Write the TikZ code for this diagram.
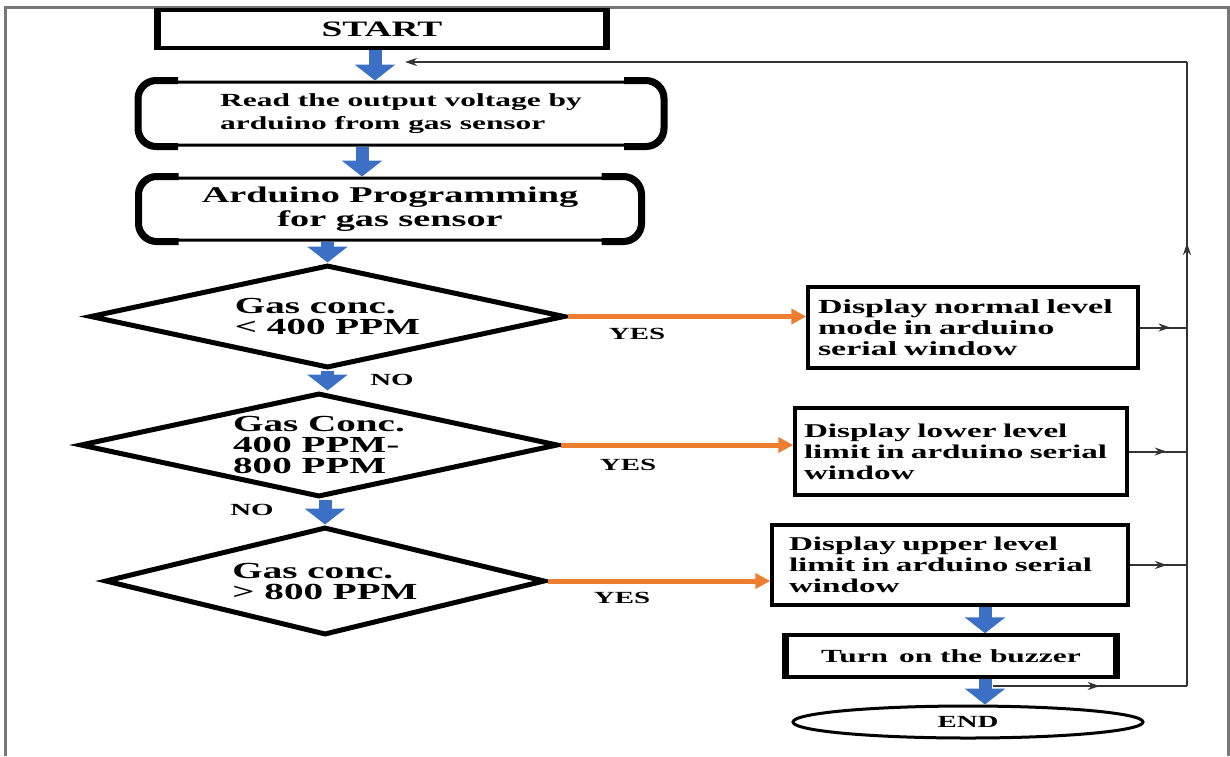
\documentclass[tikz,border=0pt]{standalone}
\usepackage{fontspec}
\setmainfont{Liberation Serif}[FakeStretch=1.7]
\usetikzlibrary{arrows.meta,shapes.geometric,decorations.markings}
\definecolor{flowblue}{RGB}{60,112,196}
\definecolor{yesorange}{RGB}{237,125,49}
\definecolor{framegray}{RGB}{120,120,120}
\tikzset{
  box/.style={draw, line width=3.5pt, inner sep=0pt, font=\bfseries\fontsize{20}{21}\selectfont},
  roundbox/.style={box, line width=3pt, rounded corners=18pt},
  decision/.style={draw, diamond, line width=5pt, inner sep=0pt, align=left, font=\bfseries\fontsize{23}{21}\selectfont},
  downarrow/.style={draw=flowblue, line width=13pt, -{Triangle[width=40pt,length=16pt]}},
  yesarrow/.style={draw=yesorange, line width=5pt, -{Triangle[width=15pt,length=15pt]}},
  answer/.style={font=\bfseries\fontsize{17}{17}\selectfont},
  loopline/.style={draw=black!80, line width=2pt},
  midtip/.style={postaction={decorate}, decoration={markings, mark=at position #1 with {\arrow{Stealth[length=12pt,width=8pt]}}}}
}
\begin{document}
\begin{tikzpicture}[x=1pt, y=-1pt]
  \useasboundingbox (0,0) rectangle (1230,756);
  % outer frame
  \draw[framegray, line width=3pt] (5,756) -- (5,7) -- (1228,7) -- (1228,756);

  % main column
  \node[box, minimum width=445, minimum height=38, font=\bfseries\fontsize{22}{22}\selectfont] (start) at (382,29) {START};
  \node[roundbox, minimum width=523, minimum height=63, align=left, font=\bfseries\fontsize{18.5}{23}\selectfont] (read) at (401,113.5)
    {Read the output voltage by\\arduino from gas sensor};
  \node[roundbox, minimum width=500, minimum height=62, align=center, font=\bfseries\fontsize{22.5}{24}\selectfont] (ardu) at (390,209)
    {Arduino Programming\\for gas sensor};
  \node[decision, minimum width=475, minimum height=103, aspect=4.6] (d1) at (327.5,316.5) {Gas conc.\\< 400 PPM};
  \node[decision, minimum width=478, minimum height=104, aspect=4.6] (d2) at (319,445) {Gas Conc.\\400 PPM-\\800 PPM};
  \node[decision, minimum width=440, minimum height=108, aspect=4.1] (d3) at (325,581) {Gas conc.\\> 800 PPM};

  % thick sides
  \draw[line width=7pt] (start.north west) -- (start.south west) (start.north east) -- (start.south east);
  \foreach \n in {read,ardu}
    \draw[line width=7pt, rounded corners=18pt]
      ([xshift=40pt]\n.north west) -- (\n.north west) -- (\n.south west) -- ([xshift=40pt]\n.south west)
      ([xshift=-40pt]\n.north east) -- (\n.north east) -- (\n.south east) -- ([xshift=-40pt]\n.south east);

  % right column
  \node[box, minimum width=330, minimum height=81, text width=310, align=left] (normal) at (973,327.5)
    {Display normal level\\mode in arduino\\serial window};
  \node[box, minimum width=332, minimum height=87, text width=314, align=left, font=\bfseries\fontsize{19.5}{21}\selectfont] (lower) at (961,451.5)
    {Display lower level\\limit in arduino serial\\window};
  \node[box, minimum width=356, minimum height=80, text width=322, align=left, font=\bfseries\fontsize{19.5}{21}\selectfont] (upper) at (950,565)
    {Display upper level\\limit in arduino serial\\window};
  \node[box, minimum width=328, minimum height=42, font=\bfseries\fontsize{18.5}{19}\selectfont] (buzz) at (951,656) {Turn\, on the buzzer};
  \draw[line width=7pt] (buzz.north west) -- (buzz.south west) (buzz.north east) -- (buzz.south east);
  \node[draw, ellipse, line width=3pt, minimum width=350, minimum height=32, inner sep=0pt, font=\bfseries\fontsize{17}{17}\selectfont] (endnode) at (968,722) {END};

  % blue flow arrows
  \draw[downarrow] ([xshift=-7pt]start.south) -- ([xshift=-7pt]start.south |- read.north);
  \draw[downarrow] ([xshift=-39pt]read.south) -- ([xshift=-39pt]read.south |- ardu.north);
  \draw[downarrow] (ardu.south -| d1.north) -- (d1.north);
  \draw[downarrow] (d1.south) -- (d1.south |- d2.north);
  \draw[downarrow] (d2.south -| d3.north) -- (d3.north);
  \draw[downarrow] ([xshift=35pt]upper.south) -- ([xshift=35pt]upper.south |- buzz.north);
  \draw[downarrow] ([xshift=34pt]buzz.south) -- ([xshift=34pt]buzz.south |- endnode.north);

  \node[answer] (no1) at (392,380) {NO};
  \node[answer] (no2) at (252,510) {NO};

  % yes branches
  \draw[yesarrow] (d1.east) -- (d1.east -| normal.west);
  \draw[yesarrow] (d2.east) -- (d2.east -| lower.west);
  \draw[yesarrow] (d3.east) -- (d3.east -| upper.west);
  \node[answer] (yes1) at (637,334) {YES};
  \node[answer] (yes2) at (628,465) {YES};
  \node[answer] (yes3) at (622,598) {YES};

  % feedback loop
  \coordinate (ltop) at (1187,62);
  \coordinate (lbot) at (1187,686);
  \coordinate (back) at (405,62);
  \coordinate (bstart) at (993,686);
  \draw[loopline, midtip=0.71] (lbot) -- (ltop);
  \draw[loopline, -{Stealth[length=12pt,width=8pt]}] (ltop) -- (back);
  \draw[loopline, midtip=0.55] (bstart) -- (lbot);
  \foreach \b in {normal,lower,upper} \draw[loopline, midtip=0.65] (\b.east) -- (\b.east -| lbot);
\end{tikzpicture}
\end{document}
